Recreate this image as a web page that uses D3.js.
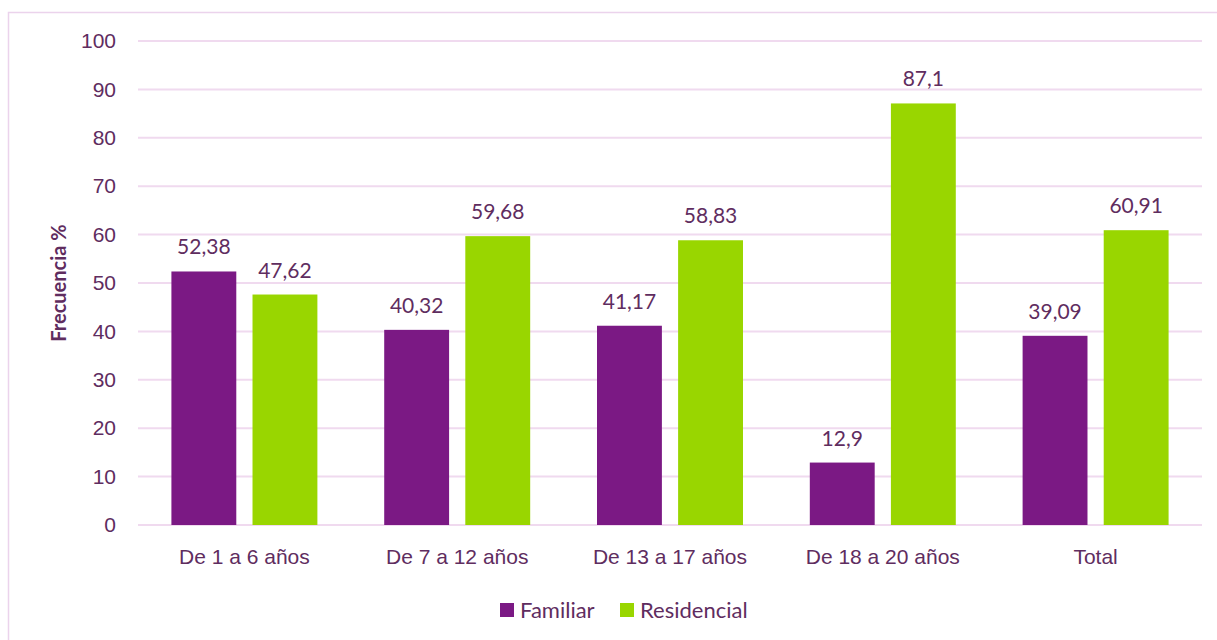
<!DOCTYPE html>
<html>
<head>
<meta charset="utf-8">
<script src="https://cdn.jsdelivr.net/npm/d3@7"></script>
<style>
  body { margin: 0; background: #fff; }
  svg { display: block; font-family: Lato, "Open Sans", sans-serif; }
</style>
</head>
<body>
<div id="chart"></div>
<script>
const categories = ["De 1 a 6 años", "De 7 a 12 años", "De 13 a 17 años", "De 18 a 20 años", "Total"];
const seriesNames = ["Familiar", "Residencial"];
const familiar = [52.38, 40.32, 41.17, 12.9, 39.09];
const residencial = [47.62, 59.68, 58.83, 87.1, 60.91];
const yTicks = [0, 10, 20, 30, 40, 50, 60, 70, 80, 90, 100];

const width = 1217, height = 640;
const margin = { top: 41, right: 15, bottom: 115, left: 138 };
const colors = { Familiar: "#7B1984", Residencial: "#99D600" };
const textColor = "#5F2D5F";
const gridColor = "#F0DAEF";

const svg = d3.select("#chart").append("svg")
    .attr("width", width)
    .attr("height", height);

// outer chart frame
svg.append("rect")
    .attr("x", 8.5)
    .attr("y", 12.5)
    .attr("width", 1400)
    .attr("height", 800)
    .attr("fill", "none")
    .attr("stroke", "#EBD3EC")
    .attr("stroke-width", 1.5);

const x0 = d3.scaleBand()
    .domain(categories)
    .range([margin.left, width - margin.right])
    .paddingInner(0.314)
    .paddingOuter(0.157);

const x1 = d3.scaleBand()
    .domain(seriesNames)
    .range([0, x0.bandwidth()])
    .paddingInner(0.2);

const y = d3.scaleLinear()
    .domain([0, 100])
    .range([height - margin.bottom, margin.top]);

const data = categories.map((c, i) => ({
    cat: c,
    values: [
        { key: "Familiar", value: familiar[i] },
        { key: "Residencial", value: residencial[i] }
    ]
}));

// grid
svg.append("g")
    .selectAll("line")
    .data(yTicks)
    .join("line")
    .attr("x1", margin.left)
    .attr("x2", width - margin.right)
    .attr("y1", d => y(d))
    .attr("y2", d => y(d))
    .attr("stroke", gridColor)
    .attr("stroke-width", 2);

// y axis labels
const yAxis = svg.append("g")
    .attr("transform", `translate(${margin.left - 22},0)`)
    .call(d3.axisLeft(y).tickValues(yTicks).tickSize(0).tickPadding(0));
yAxis.select(".domain").remove();
yAxis.selectAll("text")
    .attr("fill", textColor)
    .style("font-size", "21px");

svg.append("text")
    .attr("transform", `translate(66,${y(50)}) rotate(-90)`)
    .attr("text-anchor", "middle")
    .attr("fill", textColor)
    .style("font-size", "20px")
    .style("font-weight", "bold")
    .text("Frecuencia %");

// bars
const groups = svg.append("g")
    .selectAll("g")
    .data(data)
    .join("g")
    .attr("transform", d => `translate(${x0(d.cat)},0)`);

groups.selectAll("rect")
    .data(d => d.values)
    .join("rect")
    .attr("x", d => x1(d.key))
    .attr("width", x1.bandwidth())
    .attr("y", d => y(d.value))
    .attr("height", d => y(0) - y(d.value))
    .attr("fill", d => colors[d.key]);

groups.selectAll("text")
    .data(d => d.values)
    .join("text")
    .attr("x", d => x1(d.key) + x1.bandwidth() / 2)
    .attr("y", d => y(d.value) - 17)
    .attr("text-anchor", "middle")
    .attr("fill", textColor)
    .style("font-size", "21px")
    .text(d => String(d.value).replace(".", ","));

// x axis labels
const xAxis = svg.append("g")
    .attr("transform", `translate(0,${y(0) + 22})`)
    .call(d3.axisBottom(x0).tickSize(0).tickPadding(0));
xAxis.select(".domain").remove();
xAxis.selectAll("text")
    .attr("fill", textColor)
    .attr("dy", "0.8em")
    .style("font-size", "21px");

// legend
const legendX = [500, 620];
const legend = svg.append("g")
    .selectAll("g")
    .data(seriesNames)
    .join("g")
    .attr("transform", (d, i) => `translate(${legendX[i]},603)`);

legend.append("rect")
    .attr("width", 14)
    .attr("height", 14)
    .attr("fill", d => colors[d]);

legend.append("text")
    .attr("x", 20)
    .attr("y", 7)
    .attr("dy", "0.35em")
    .attr("fill", textColor)
    .style("font-size", "22px")
    .text(d => d);
</script>
</body>
</html>
